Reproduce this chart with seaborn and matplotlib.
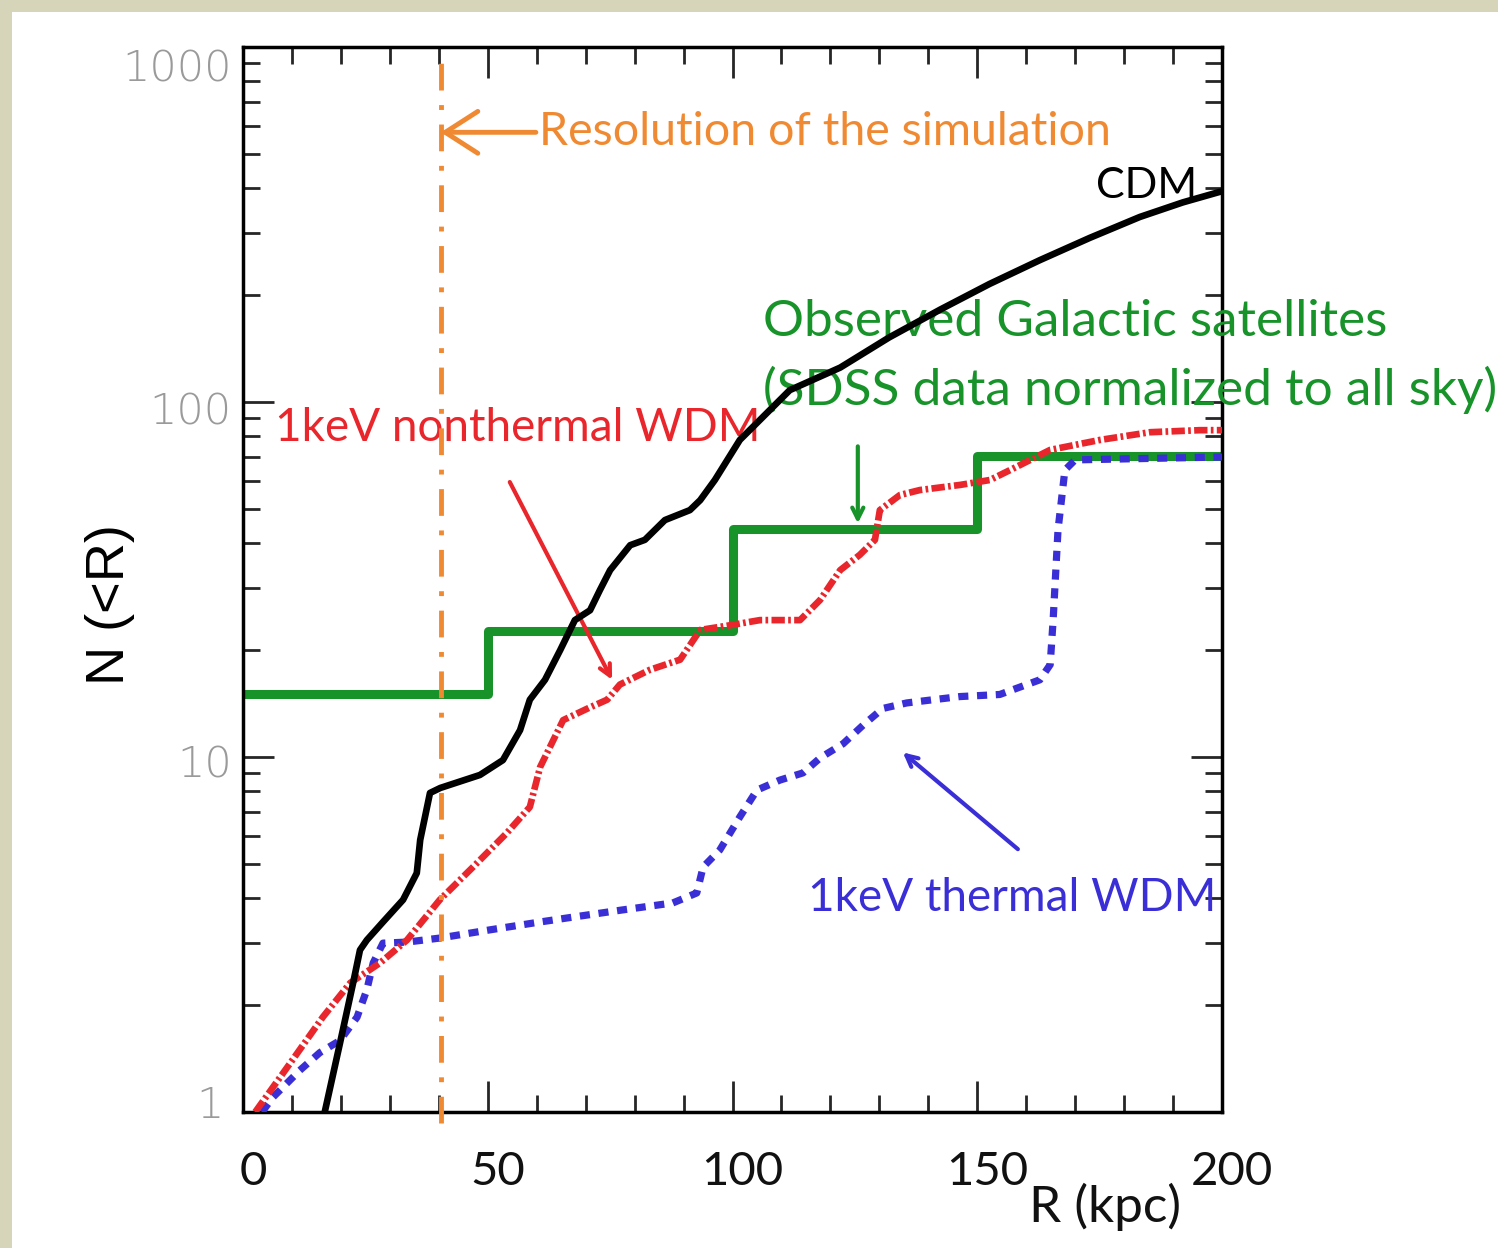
import numpy as np
import pandas as pd
import matplotlib
matplotlib.use("Agg")
import matplotlib.pyplot as plt
from matplotlib.patches import Rectangle
from matplotlib.transforms import ScaledTranslation
import seaborn as sns

# ---------------- data ----------------
cdm_r = [16.7, 19.8, 22.5, 23.9, 25.3, 28.6, 32.7, 35.5, 36.2, 38.2, 40.3, 48.4, 53.1,
         56.6, 58.6, 61.7, 64.8, 67.8, 70.9, 72.9, 75.0, 79.1, 82.1, 86.2, 91.3, 93.4,
         96.4, 101.5, 105.6, 111.7, 122.0, 132.0, 142.4, 152.5, 162.8, 173.0, 183.2, 192.0, 199.6]
cdm_n = [1.0, 1.56, 2.31, 2.86, 3.05, 3.43, 3.96, 4.71, 5.84, 7.92, 8.18, 8.9, 9.8,
         11.9, 14.5, 16.5, 20.0, 24.3, 25.9, 29.5, 33.6, 39.5, 40.9, 46.5, 49.6, 52.9,
         60.3, 78.2, 89.0, 108.0, 125.0, 152.0, 182.0, 215.0, 251.0, 290.0, 332.0, 365.0, 391.0]

nonth_r = [2.5, 9.6, 16.3, 21.9, 28.0, 33.5, 40.2, 47.0, 53.9, 58.6, 60.7, 65.4, 70.9,
           74.4, 77.0, 83.1, 89.3, 93.4, 99.5, 105.6, 113.8, 117.9, 122.0, 126.0, 129.1,
           130.1, 134.2, 138.3, 146.5, 152.6, 156.7, 164.9, 175.1, 185.3, 195.5, 200.0]
nonth_n = [1.0, 1.37, 1.85, 2.31, 2.63, 3.05, 3.96, 4.9, 6.11, 7.23, 9.37, 12.7, 13.8,
           14.5, 16.0, 17.6, 18.8, 22.8, 23.5, 24.3, 24.3, 27.7, 33.6, 37.1, 40.9,
           49.6, 54.7, 56.5, 58.4, 60.3, 64.3, 73.3, 78.2, 82.2, 83.3, 83.3]

therm_r = [3.9, 6.1, 11.6, 15.7, 19.8, 23.3, 25.3, 26.6, 28.6, 33.5, 40.2, 50.5, 60.7,
           67.4, 77.6, 87.8, 92.7, 94.0, 97.4, 101.5, 105.0, 109.7, 114.4, 117.9, 122.6,
           126.7, 130.7, 135.6, 141.0, 146.5, 154.6, 162.8, 164.9, 165.5, 166.5, 167.9,
           170.0, 200.0]
therm_n = [1.0, 1.10, 1.31, 1.47, 1.59, 1.85, 2.21, 2.63, 2.99, 3.01, 3.09, 3.26, 3.43,
           3.54, 3.71, 3.88, 4.14, 4.9, 5.47, 6.78, 8.07, 8.61, 9.02, 9.94, 10.9,
           12.3, 13.7, 14.2, 14.5, 14.8, 15.0, 16.5, 18.2, 24.3, 43.6, 64.3,
           68.7, 70.0]

obs_r = [0, 50, 100, 150, 200]
obs_n = [15.0, 22.6, 44.0, 70.5, 70.5]

resolution_r = 40.4

x_ticks = [0, 50, 100, 150, 200]
x_ticklabels = ["0", "50", "100", "150", "200"]
y_ticks = [1, 10, 100, 1000]
y_ticklabels = ["1", "10", "100", "1000"]

# ---------------- styling ----------------
sns.set_style("ticks")
plt.rcParams["font.family"] = ["Lato", "DejaVu Sans"]

W, H = 1498, 1248
fig = plt.figure(figsize=(W / 100, H / 100), dpi=100, facecolor="#d7d5b9")
fig.add_artist(Rectangle((12 / W, 0), 1, 1 - 12 / H, transform=fig.transFigure,
                         facecolor="white", edgecolor="none", zorder=-10))

ax = fig.add_axes([243 / W, 1 - 1112 / H, (1222 - 243) / W, (1112 - 47) / H])
ax.set_facecolor("white")
ax.set_yscale("log")

BLACK = "#000000"
RED = "#e8262b"
BLUE = "#3a2fd6"
GREEN = "#17932a"
ORANGE = "#f08a32"

df_cdm = pd.DataFrame({"R": cdm_r, "N": cdm_n})
df_nonth = pd.DataFrame({"R": nonth_r, "N": nonth_n})
df_therm = pd.DataFrame({"R": therm_r, "N": therm_n})
df_obs = pd.DataFrame({"R": obs_r, "N": obs_n})

sns.lineplot(data=df_therm, x="R", y="N", ax=ax, color=BLUE, lw=5.2, sort=False,
             estimator=None, linestyle=(0, (1.4, 1.2)), dash_capstyle="butt", zorder=3)
sns.lineplot(data=df_nonth, x="R", y="N", ax=ax, color=RED, lw=4.8, sort=False,
             estimator=None, linestyle=(0, (2.0, 0.5, 0.4, 0.5)), dash_capstyle="butt", zorder=4)
sns.lineplot(data=df_obs, x="R", y="N", ax=ax, color=GREEN, lw=6.5, sort=False,
             estimator=None, drawstyle="steps-post", zorder=2)
sns.lineplot(data=df_cdm, x="R", y="N", ax=ax, color=BLACK, lw=4.8, sort=False,
             estimator=None, zorder=5)
ax.axvline(resolution_r, ymin=-0.01, ymax=0.985, color=ORANGE, lw=3.5,
           linestyle=(0, (5.5, 3, 1, 3)), clip_on=False, zorder=6)

ax.set_xlim(0, 200)
ax.set_ylim(1, 1000)

ax.set_xticks(x_ticks)
ax.set_xticklabels(x_ticklabels, fontsize=34, color="#111111")
ax.set_yticks(y_ticks)
ax.set_yticklabels(y_ticklabels, fontsize=31, color="#9a9a9a",
                   family=["DejaVu Sans"], fontweight="light")
ax.set_xticks(np.arange(0, 201, 10), minor=True)
ax.tick_params(axis="x", which="major", direction="in", length=22, width=2,
               top=True, bottom=True, pad=28)
ax.tick_params(axis="x", which="minor", direction="in", length=12, width=2,
               top=True, bottom=True)
ax.tick_params(axis="y", which="major", direction="in", length=22, width=2,
               left=True, right=True, pad=8)
ax.tick_params(axis="y", which="minor", direction="in", length=12, width=2,
               left=True, right=True)

# small offsets of tick labels, as in the original figure
for lab in ax.get_xticklabels():
    lab.set_transform(lab.get_transform() + ScaledTranslation(10 / 100, 0, fig.dpi_scale_trans))
y_offsets = {"1": (-8, 10), "10": (0, -4), "100": (0, -6), "1000": (0, -18)}
for lab in ax.get_yticklabels():
    dx, dy = y_offsets.get(lab.get_text(), (0, 0))
    lab.set_transform(lab.get_transform() + ScaledTranslation(dx / 100, dy / 100, fig.dpi_scale_trans))

for s in ax.spines.values():
    s.set_linewidth(2.5)
    s.set_color("black")
    s.set_visible(True)

ax.set_xlabel("")
ax.set_ylabel("")
fig.text(110 / W, 1 - 605 / H, "N (<R)", fontsize=39, rotation=90,
         family=["Liberation Sans", "DejaVu Sans"], ha="center", va="center", color="black")
fig.text(1105 / W, 1 - 1207 / H, "R (kpc)", fontsize=37, ha="center", va="center",
         color="#111111")

# ---------------- annotations ----------------
ax.annotate("Resolution of the simulation", xy=(resolution_r, 575), xytext=(60.5, 575),
            fontsize=33.5, color=ORANGE, va="center", ha="left",
            arrowprops=dict(arrowstyle="->,head_length=0.7,head_width=0.45",
                            color=ORANGE, lw=3.5, shrinkA=0, shrinkB=0))
ax.text(184.5, 405, "CDM", fontsize=31, color="black", ha="center", va="center")
ax.text(106.2, 168, "Observed Galactic satellites", fontsize=37, color=GREEN,
        ha="left", va="center", clip_on=False)
ax.text(106.2, 108, "(SDSS data normalized to all sky)", fontsize=37, color=GREEN,
        ha="left", va="center", clip_on=False)
ax.annotate("", xy=(125.6, 45.5), xytext=(125.6, 75),
            arrowprops=dict(arrowstyle="->,head_length=0.8,head_width=0.4",
                            color=GREEN, lw=3, shrinkA=0, shrinkB=0))
ax.text(6.5, 84.5, "1keV nonthermal WDM", fontsize=33, color=RED, ha="left", va="center")
ax.annotate("", xy=(75.4, 16.5), xytext=(54.5, 59.5),
            arrowprops=dict(arrowstyle="->,head_length=0.8,head_width=0.4",
                            color=RED, lw=3, shrinkA=0, shrinkB=0))
ax.text(115.4, 4.0, "1keV thermal WDM", fontsize=33, color=BLUE, ha="left", va="center")
ax.annotate("", xy=(134.8, 10.3), xytext=(158.3, 5.5),
            arrowprops=dict(arrowstyle="->,head_length=0.8,head_width=0.4",
                            color=BLUE, lw=3, shrinkA=0, shrinkB=0))

fig.savefig("out.png", dpi=100, facecolor=fig.get_facecolor())
